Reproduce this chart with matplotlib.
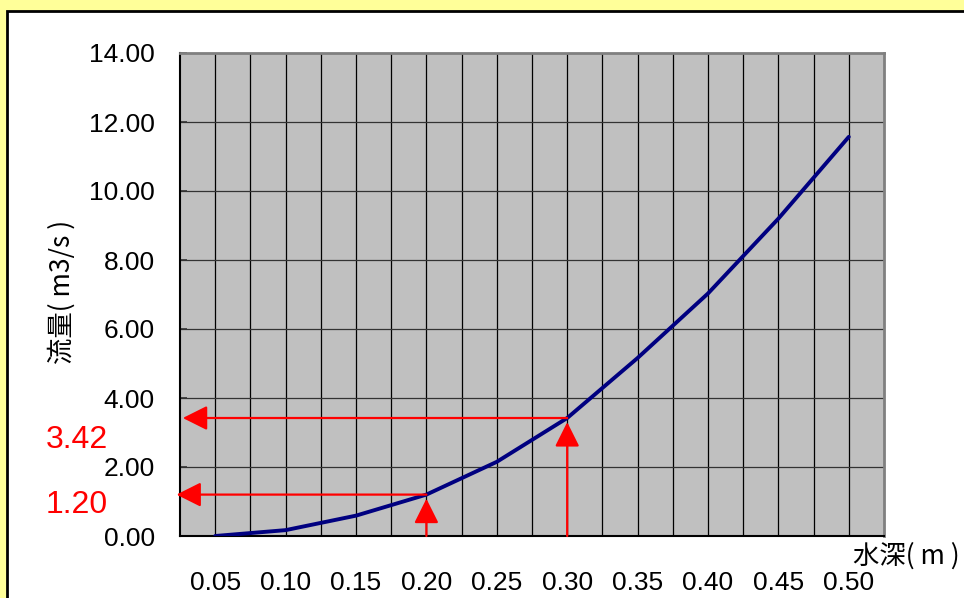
import matplotlib.pyplot as plt
from matplotlib.patches import Rectangle

plt.rcParams['font.family'] = ['Liberation Sans', 'Noto Sans CJK JP', 'DejaVu Sans']

# 水深 (m) と 流量 (m3/s)
depth = [0.05, 0.10, 0.15, 0.20, 0.25, 0.30, 0.35, 0.40, 0.45, 0.50]
flow = [0.00, 0.17, 0.59, 1.20, 2.15, 3.42, 5.16, 7.03, 9.20, 11.57]
y_ticks = [0, 2, 4, 6, 8, 10, 12, 14]
grid_x = [0.05 + 0.025 * i for i in range(19)]

# 読み取り点
read_x = [0.20, 0.30]
read_y = [1.20, 3.42]

W, H = 964, 598
fig = plt.figure(figsize=(W / 100, H / 100), dpi=100)
fig.patch.set_facecolor('#FFFF99')

# white panel with black border (top / left)
panel = Rectangle((7 / W, -0.1), 1.2, 1.1 - 11 / H, transform=fig.transFigure,
                  facecolor='white', edgecolor='black', linewidth=2)
panel.set_zorder(-5)
fig.add_artist(panel)

ax = fig.add_axes([180 / W, 1 - 536 / H, 704 / W, 483 / H])
ax.set_zorder(1)
ax.set_facecolor('#C0C0C0')
ax.set_xlim(0.025, 0.525)
ax.set_ylim(0, 14)

for gx in grid_x:
    ax.axvline(gx, color='black', lw=0.9, zorder=1)
for gy in y_ticks[1:-1]:
    ax.axhline(gy, color='#333333', lw=0.9, zorder=1)

ax.plot(depth, flow, color='#000080', lw=2.8, zorder=4, solid_capstyle='round')

# red reading arrows
style = '-|>,head_length=1.5,head_width=0.75'
for rx, ry, hx in zip(read_x, read_y, [0.0225, 0.027]):
    ax.annotate('', xy=(hx, ry), xytext=(rx, ry), annotation_clip=False,
                arrowprops=dict(arrowstyle=style, color='red', lw=1.6,
                                shrinkA=0, shrinkB=0), zorder=5)
    ax.annotate('', xy=(rx, ry - 0.12), xytext=(rx, 0), annotation_clip=False,
                arrowprops=dict(arrowstyle=style, color='red', lw=1.6,
                                shrinkA=0, shrinkB=0), zorder=5)

fig.text(108 / W, 1 - 440 / H, '3.42', color='red', fontsize=23, ha='right', va='center')
fig.text(108 / W, 1 - 505 / H, '1.20', color='red', fontsize=23, ha='right', va='center')

ax.set_yticks(y_ticks)
ax.set_yticklabels([f'{v:.2f}' for v in y_ticks], fontsize=19)
ax.set_xticks(depth)
ax.set_xticklabels([f'{v:.2f}' for v in depth], fontsize=19)
ax.tick_params(axis='y', direction='in', length=5, width=1.2, pad=18, color='#333333')
ax.tick_params(axis='x', length=0, pad=25)

for side in ['left', 'bottom']:
    ax.spines[side].set_color('black')
    ax.spines[side].set_linewidth(1.5)
for side in ['top', 'right']:
    ax.spines[side].set_color('#808080')
    ax.spines[side].set_linewidth(2)

fig.text(62 / W, 1 - 292 / H, '流量( m3/s )', rotation=90, fontsize=19,
         ha='center', va='center', family=['Noto Sans CJK JP', 'DejaVu Sans'])
fig.text(960 / W, 1 - 556 / H, '水深( m )', fontsize=19, ha='right', va='center',
         family=['Noto Sans CJK JP', 'DejaVu Sans'])

fig.savefig('out.png', dpi=100, facecolor=fig.get_facecolor())
